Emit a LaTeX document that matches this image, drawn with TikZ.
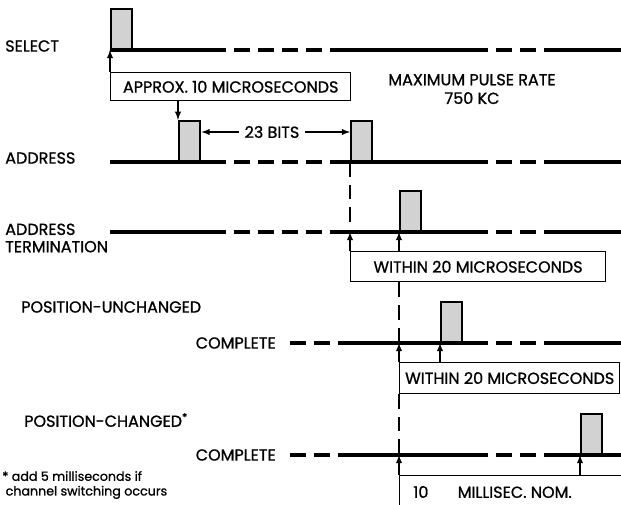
\documentclass[tikz,border=0pt]{standalone}
\usepackage{fontspec}
\setmainfont{Poppins}[BoldFont=Poppins,BoldFeatures={FakeBold=1}]
\begin{document}
\begin{tikzpicture}[x=0.75pt,y=-0.75pt,>=latex,
    font=\fontsize{12}{14}\selectfont\bfseries,
    track/.style={line width=3pt},
    gaps/.style={line width=3pt,dash pattern=on 12pt off 6pt},
    pulse/.style={draw,line width=1.6pt,fill=gray!35,minimum width=16pt,minimum height=30pt,inner sep=0pt,anchor=south west},
    tbox/.style={draw,line width=1.1pt,fill=white,anchor=north west,inner sep=0pt},
    vdash/.style={line width=1.3pt,dash pattern=on 11pt off 6pt},
    tip/.style={->,line width=1.1pt}]
    \useasboundingbox (0,0) rectangle (621,504);
    \foreach \y in {50,162,232} {
        \draw[track] (110,\y) -- (210,\y) (343,\y) -- (472,\y) (560,\y) -- (621,\y);
        \draw[gaps] (210,\y) -- (343,\y) (472,\y) -- (560,\y);
    }
    \foreach \y in {343,455} {
        \draw[track] (343,\y) -- (472,\y) (560,\y) -- (621,\y);
        \draw[gaps] (290,\y) -- (343,\y) (472,\y) -- (560,\y);
    }
    \node[anchor=west,inner xsep=0pt] (sel) at (5,46) {SELECT};
    \node[anchor=west,inner xsep=0pt] (addr) at (5,158) {ADDRESS};
    \node[anchor=west,align=left,inner sep=0pt] (term) at (5,238) {ADDRESS\\[-1pt]TERMINATION};
    \node[anchor=west,inner xsep=0pt] (unch) at (21,307) {POSITION-UNCHANGED};
    \node[anchor=east,inner xsep=0pt] (unchC) at (276,343) {COMPLETE};
    \node[anchor=west,inner xsep=0pt] (chg) at (24,420) {POSITION-CHANGED\textsuperscript{*}};
    \node[anchor=east,inner xsep=0pt] (chgC) at (276,455) {COMPLETE};
    \node[anchor=west,align=left,inner sep=0pt,font=\fontsize{9.5}{11}\selectfont\bfseries] (note) at (2,485) {* add 5 milliseconds if\\\ channel switching occurs};
    \node[align=center,inner sep=0pt] (rate) at (472,89) {MAXIMUM PULSE RATE\\750 KC};
    \node[pulse] (selP) at (110,50) {};
    \node[pulse] (addrP1) at (178,162) {};
    \node[pulse] (addrP2) at (350,162) {};
    \node[pulse] (termP) at (399,232) {};
    \node[pulse] (unchP) at (440,343) {};
    \node[pulse] (chgP) at (580,455) {};
    \node[tbox,minimum width=180pt,minimum height=21pt] (approxBox) at (110,72) {APPROX. 10 MICROSECONDS};
    \node[tbox,minimum width=191pt,minimum height=22.5pt] (termBox) at (350,251) {WITHIN 20 MICROSECONDS};
    \node[tbox,minimum width=165pt,minimum height=23pt] (unchBox) at (399,362) {WITHIN 20 MICROSECONDS};
    \node[tbox,minimum width=190pt,minimum height=26pt] (chgBox) at (399,475) {};
    \node[anchor=west,inner sep=0pt] (chgTxt) at (413,492) {10\hspace{22pt}MILLISEC. NOM.};
    \node[fill=white,inner xsep=4pt] (bits) at (272,132) {23 BITS};
    \coordinate (termT) at (350,232);
    \coordinate (unchT) at (399,343);
    \coordinate (chgT) at (399,455);
    \draw[tip] (approxBox.north west) -- (selP.south west);
    \draw[tip] (approxBox.south west -| addrP1.north west) -- (addrP1.north west);
    \draw[tip] (bits.west) -- (addrP1.east |- bits.west);
    \draw[tip] (bits.east) -- (addrP2.west |- bits.east);
    \draw[vdash] (addrP2.south west) -- (termT);
    \draw[tip] (termBox.north west) -- (termT);
    \draw[tip] (termBox.north -| termP.south west) -- (termP.south west);
    \draw[vdash] (termBox.south -| termP.south west) -- (unchT);
    \draw[tip] (unchBox.north west) -- (unchT);
    \draw[tip] (unchBox.north -| unchP.south west) -- (unchP.south west);
    \draw[vdash] (unchBox.south west) -- (chgT);
    \draw[tip] (chgBox.north west) -- (chgT);
    \draw[tip] (chgBox.north -| chgP.south west) -- (chgP.south west);
\end{tikzpicture}
\end{document}
